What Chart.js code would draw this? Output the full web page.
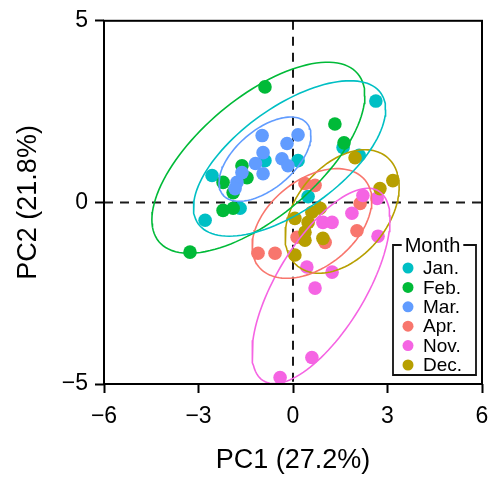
<!DOCTYPE html>
<html>
<head>
<meta charset="utf-8">
<script src="https://cdn.jsdelivr.net/npm/chart.js@4/dist/chart.umd.min.js"></script>
<style>
  html, body { margin: 0; padding: 0; background: #ffffff; }
  #wrap { width: 490px; height: 483px; position: relative; }
</style>
</head>
<body>
<div id="wrap"><canvas id="c" width="490" height="483"></canvas></div>
<script>
// ---------- data ----------
const months = ['Jan.', 'Feb.', 'Mar.', 'Apr.', 'Nov.', 'Dec.'];
const monthColors = ['#00BFC4', '#00BA38', '#619CFF', '#F8766D', '#F564E3', '#B79F00'];

const janPC1 = [2.63, -2.57, -2.79, -1.68, 0.16, 0.48, 1.59, -0.89, 2.10];
const janPC2 = [2.79, 0.74, -0.49, -0.16, 1.15, 0.16, 1.51, 1.15, 1.30];

const febPC1 = [-0.89, 1.33, 1.62, -3.27, -1.62, -1.46, -2.22, -1.90, -2.22, -1.90];
const febPC2 = [3.18, 2.16, 1.64, -1.37, 1.01, 0.68, 0.55, 0.27, -0.22, -0.16];

const marPC1 = [-0.98, -0.19, 0.16, -0.95, -0.35, -0.16, -1.19, -0.95, -1.62, -1.78, -1.84];
const marPC2 = [1.84, 1.62, 1.86, 1.37, 1.20, 1.01, 1.07, 0.79, 0.82, 0.55, 0.38];

const aprPC1 = [-1.11, -0.57, 0.38, 0.70, 0.13, 1.02, 2.03, 2.13];
const aprPC2 = [-1.40, -1.40, 0.52, 0.47, -0.96, -1.10, -0.78, -0.03];

const novPC1 = [1.87, 2.22, 2.67, 0.95, 1.24, 2.70, 0.44, 1.24, 0.70, 0.60, -0.41];
const novPC2 = [-0.30, 0.19, 0.11, -0.55, -0.55, -0.93, -1.78, -1.92, -2.36, -4.27, -4.82];

const decPC1 = [1.97, 2.76, 3.17, 0.86, 0.60, 0.06, 0.48, 0.38, 0.38, 0.95, 0.06];
const decPC2 = [1.23, 0.38, 0.60, -0.16, -0.27, -0.44, -0.55, -0.82, -1.04, -0.99, -1.45];

// confidence ellipses (centre, half extents, correlation)
const ellipseCx  = [-0.11, -1.10, -0.89, 0.60, 0.89, 1.56];
const ellipseCy  = [1.21, 1.23, 1.19, -0.58, -2.30, -0.25];
const ellipseSx  = [3.05, 3.38, 1.46, 1.90, 2.19, 1.81];
const ellipseSy  = [2.14, 2.63, 1.16, 1.51, 2.69, 1.70];
const ellipseRho = [0.63, 0.65, 0.56, 0.42, 0.68, 0.40];

const xTicks = [-6, -3, 0, 3, 6];
const yTicks = [-5, 0, 5];
const xTitle = 'PC1 (27.2%)';
const yTitle = 'PC2 (21.8%)';
const legendTitle = 'Month';

// ---------- build datasets ----------
const pc1 = [janPC1, febPC1, marPC1, aprPC1, novPC1, decPC1];
const pc2 = [janPC2, febPC2, marPC2, aprPC2, novPC2, decPC2];

function pairs(xs, ys) { return xs.map((x, i) => ({ x: x, y: ys[i] })); }

function ellipseOutline(k) {
  const out = [];
  const n = 120;
  const r = ellipseRho[k], s = Math.sqrt(1 - r * r);
  for (let i = 0; i <= n; i++) {
    const t = 2 * Math.PI * i / n;
    out.push({
      x: ellipseCx[k] + ellipseSx[k] * Math.cos(t),
      y: ellipseCy[k] + ellipseSy[k] * (r * Math.cos(t) + s * Math.sin(t))
    });
  }
  return out;
}

const datasets = [];
months.forEach((m, k) => {
  datasets.push({
    label: m,
    data: pairs(pc1[k], pc2[k]),
    backgroundColor: monthColors[k],
    borderColor: monthColors[k],
    borderWidth: 0,
    pointRadius: 6.8,
    pointHoverRadius: 6.8,
    showLine: false,
    order: months.length - k
  });
});
months.forEach((m, k) => {
  datasets.push({
    label: m + ' ellipse',
    isEllipse: true,
    data: ellipseOutline(k),
    borderColor: monthColors[k],
    borderWidth: 1.6,
    pointRadius: 0,
    showLine: true,
    fill: false,
    tension: 0,
    order: 0
  });
});

const FONT = '"Liberation Sans", Arial, Helvetica, sans-serif';

const framePlugin = {
  id: 'frame',
  beforeDatasetsDraw(chart) {
    const ctx = chart.ctx, xs = chart.scales.x, ys = chart.scales.y;
    const x0 = xs.getPixelForValue(0), y0 = ys.getPixelForValue(0);
    const a = chart.chartArea;
    ctx.save();
    ctx.strokeStyle = '#1a1a1a';
    ctx.lineWidth = 2;
    ctx.setLineDash([9, 7]);
    ctx.beginPath();
    ctx.moveTo(x0, a.top); ctx.lineTo(x0, a.bottom);
    ctx.moveTo(a.left, y0); ctx.lineTo(a.right, y0);
    ctx.stroke();
    ctx.restore();
  },
  afterDraw(chart) {
    const ctx = chart.ctx, a = chart.chartArea;
    ctx.save();
    ctx.strokeStyle = '#000';
    ctx.lineWidth = 2;
    ctx.strokeRect(a.left, a.top, a.right - a.left, a.bottom - a.top);

    // legend
    const right = a.right - 6, bottom = a.bottom - 9;
    const w = 83, h = 130;
    const left = right - w, top = bottom - h;
    ctx.fillStyle = '#fff';
    ctx.fillRect(left, top, w, h);
    ctx.font = '20px ' + FONT;
    const tw = ctx.measureText(legendTitle).width;
    const tcx = left + w / 2 - 2;
    ctx.strokeStyle = '#111';
    ctx.lineWidth = 1.8;
    ctx.beginPath();
    ctx.moveTo(tcx - tw / 2 - 3, top);
    ctx.lineTo(left, top);
    ctx.lineTo(left, bottom);
    ctx.lineTo(right, bottom);
    ctx.lineTo(right, top);
    ctx.lineTo(tcx + tw / 2 + 3, top);
    ctx.stroke();
    ctx.fillStyle = '#000';
    ctx.textAlign = 'center';
    ctx.textBaseline = 'middle';
    ctx.fillText(legendTitle, tcx, top + 1);
    ctx.textAlign = 'left';
    ctx.font = '19px ' + FONT;
    const items = chart.data.datasets.filter(d => !d.isEllipse);
    items.forEach((d, i) => {
      const cy = top + 23 + i * 19.4;
      ctx.fillStyle = d.backgroundColor;
      ctx.beginPath();
      ctx.arc(left + 15, cy, 5.5, 0, Math.PI * 2);
      ctx.fill();
      ctx.fillStyle = '#000';
      ctx.fillText(d.label, left + 30, cy + 1);
    });
    ctx.restore();
  }
};

const minus = v => (v < 0 ? '\u2212' + Math.abs(v) : String(v));

new Chart(document.getElementById('c'), {
  type: 'scatter',
  data: { datasets: datasets },
  options: {
    responsive: false,
    animation: false,
    layout: { padding: { top: 19, right: 8, left: 0, bottom: 0 } },
    plugins: {
      legend: { display: false },
      tooltip: { enabled: false }
    },
    scales: {
      x: {
        type: 'linear',
        min: -6, max: 6,
        afterBuildTicks: s => { s.ticks = xTicks.map(v => ({ value: v })); },
        afterFit: s => { s.height = 99; s.paddingLeft = 0; s.paddingRight = 2; },
        border: { display: false },
        grid: { drawOnChartArea: false, drawTicks: true, tickLength: 9, tickWidth: 2, tickColor: '#000' },
        ticks: { callback: minus, color: '#000', font: { family: FONT, size: 23 }, padding: 10, maxRotation: 0 },
        title: { display: true, text: xTitle, color: '#000', font: { family: FONT, size: 27 }, padding: { top: 10, bottom: 6 } }
      },
      y: {
        type: 'linear',
        min: -5, max: 5,
        afterBuildTicks: s => { s.ticks = yTicks.map(v => ({ value: v })); },
        afterFit: s => { s.width = 104; },
        border: { display: false },
        grid: { drawOnChartArea: false, drawTicks: true, tickLength: 9, tickWidth: 2, tickColor: '#000' },
        ticks: { callback: minus, color: '#000', font: { family: FONT, size: 23 }, padding: 7 },
        title: { display: true, text: yTitle, color: '#000', font: { family: FONT, size: 27 }, padding: { top: 12, bottom: 10 } }
      }
    }
  },
  plugins: [framePlugin]
});
</script>
</body>
</html>
